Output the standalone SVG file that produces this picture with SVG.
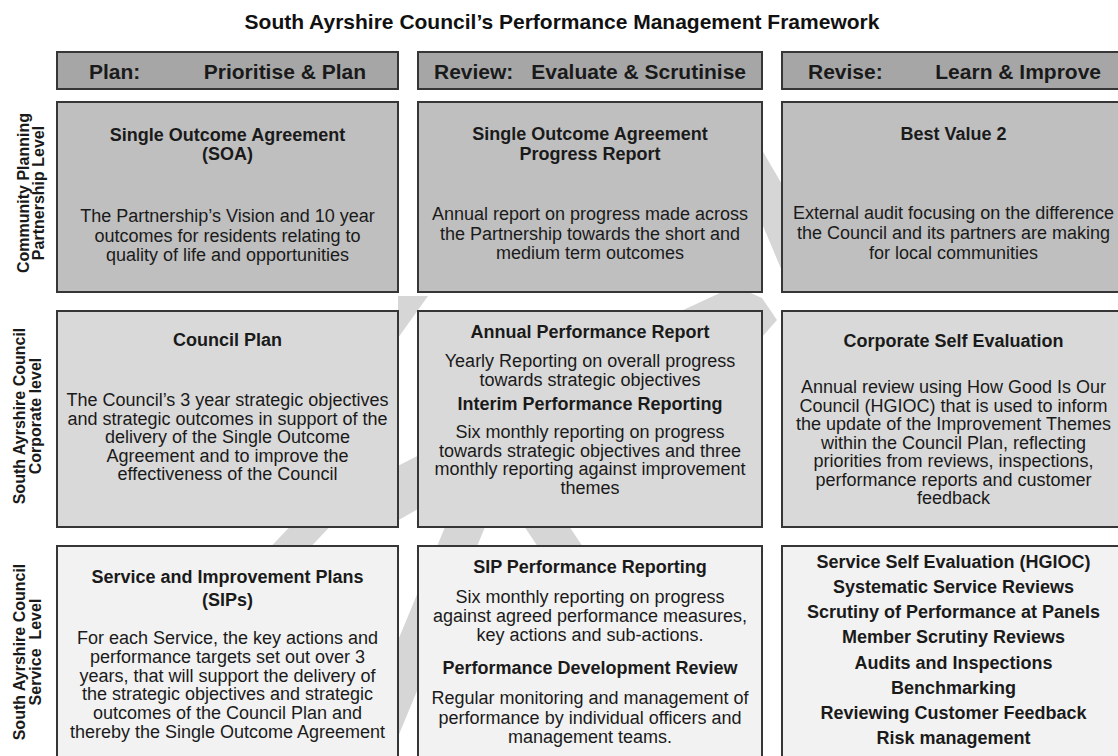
<svg xmlns="http://www.w3.org/2000/svg" width="1118" height="756" viewBox="0 0 1118 756">
  <style>
    .title { font-family: "Liberation Sans", Arial, sans-serif; font-weight: bold; font-size: 21px; fill: #111; }
    .hdr { font-family: "Liberation Sans", Arial, sans-serif; font-weight: bold; font-size: 21px; fill: #1a1a1a; }
    .lbl { font-family: "Liberation Sans", Arial, sans-serif; font-weight: bold; font-size: 16px; fill: #1a1a1a; text-anchor: middle; }
    .t { font-family: "Liberation Sans", Arial, sans-serif; font-weight: bold; font-size: 18px; fill: #1a1a1a; text-anchor: middle; }
    .b { font-family: "Liberation Sans", Arial, sans-serif; font-size: 18px; fill: #1a1a1a; text-anchor: middle; }
    .box { stroke: #363636; stroke-width: 2; }
    .h { fill: #a6a6a6; }
    .r1 { fill: #bfbfbf; }
    .r2 { fill: #d9d9d9; }
    .r3 { fill: #f2f2f2; }
    .wm { fill: #d6d6d6; }
  </style>

  <rect x="0" y="0" width="1118" height="756" fill="#ffffff"/>

  <!-- faint watermark strokes behind the grid -->
  <g id="watermark">
    <polygon class="wm" points="755,138 790,198 790,290 755,207"/>
    <polygon class="wm" points="640,330 735,286 762,298 777,320 762,337 700,340"/>
    <polygon class="wm" points="262,556 300,516 340,516 302,556"/>
    <polygon class="wm" points="390,470 425,452 425,505 390,525"/>
    <polygon class="wm" points="398,296 428,296 398,338"/>
    <polygon class="wm" points="450,515 490,515 390,756 350,756"/>
    <polygon class="wm" points="520,520 565,520 585,550 540,550"/>
  </g>

  <text class="title" x="562" y="29" text-anchor="middle">South Ayrshire Council’s Performance Management Framework</text>

  <!-- column headers -->
  <g id="hdr-plan">
    <rect class="box h" x="57" y="52" width="341" height="37"/>
    <text class="hdr" x="89" y="79">Plan:</text>
    <text class="hdr" x="366" y="79" text-anchor="end">Prioritise &amp; Plan</text>
  </g>
  <g id="hdr-review">
    <rect class="box h" x="418" y="52" width="344" height="37"/>
    <text class="hdr" x="434" y="79">Review:</text>
    <text class="hdr" x="746" y="79" text-anchor="end">Evaluate &amp; Scrutinise</text>
  </g>
  <g id="hdr-revise">
    <rect class="box h" x="782" y="52" width="343" height="37"/>
    <text class="hdr" x="808" y="79">Revise:</text>
    <text class="hdr" x="1101" y="79" text-anchor="end">Learn &amp; Improve</text>
  </g>

  <!-- row labels -->
  <g id="lbl-partnership">
    <text class="lbl" transform="translate(29,193) rotate(-90)">Community Planning</text>
    <text class="lbl" transform="translate(44,193) rotate(-90)">Partnership Level</text>
  </g>
  <g id="lbl-corporate">
    <text class="lbl" transform="translate(25,416) rotate(-90)">South Ayrshire Council</text>
    <text class="lbl" transform="translate(40.5,416) rotate(-90)">Corporate level</text>
  </g>
  <g id="lbl-service">
    <text class="lbl" transform="translate(25,652) rotate(-90)">South Ayrshire Council</text>
    <text class="lbl" transform="translate(40.5,652) rotate(-90)" xml:space="preserve">Service  Level</text>
  </g>

  <!-- row 1: community planning partnership level -->
  <g id="soa">
    <rect class="box r1" x="57" y="102" width="341" height="190"/>
    <text class="t" x="227.5" y="141">Single Outcome Agreement</text>
    <text class="t" x="227.5" y="160">(SOA)</text>
    <text class="b" x="227.5" y="222">The Partnership’s Vision and 10 year</text>
    <text class="b" x="227.5" y="242">outcomes for residents relating to</text>
    <text class="b" x="227.5" y="261">quality of life and opportunities</text>
  </g>
  <g id="soa-progress">
    <rect class="box r1" x="418" y="102" width="344" height="190"/>
    <text class="t" x="590" y="140">Single Outcome Agreement</text>
    <text class="t" x="590" y="160">Progress Report</text>
    <text class="b" x="590" y="220">Annual report on progress made across</text>
    <text class="b" x="590" y="240">the Partnership towards the short and</text>
    <text class="b" x="590" y="259">medium term outcomes</text>
  </g>
  <g id="best-value">
    <rect class="box r1" x="782" y="102" width="343" height="190"/>
    <text class="t" x="953.5" y="140">Best Value 2</text>
    <text class="b" x="953.5" y="219">External audit focusing on the difference</text>
    <text class="b" x="953.5" y="239">the Council and its partners are making</text>
    <text class="b" x="953.5" y="259">for local communities</text>
  </g>

  <!-- row 2: corporate level -->
  <g id="council-plan">
    <rect class="box r2" x="57" y="311" width="341" height="216"/>
    <text class="t" x="227.5" y="346">Council Plan</text>
    <text class="b" x="227.5" y="406">The Council’s 3 year strategic objectives</text>
    <text class="b" x="227.5" y="424.5">and strategic outcomes in support of the</text>
    <text class="b" x="227.5" y="443">delivery of the Single Outcome</text>
    <text class="b" x="227.5" y="461.5">Agreement and to improve the</text>
    <text class="b" x="227.5" y="480">effectiveness of the Council</text>
  </g>
  <g id="annual-report">
    <rect class="box r2" x="418" y="311" width="344" height="216"/>
    <text class="t" x="590" y="338">Annual Performance Report</text>
    <text class="b" x="590" y="367">Yearly Reporting on overall progress</text>
    <text class="b" x="590" y="386">towards strategic objectives</text>
    <text class="t" x="590" y="410">Interim Performance Reporting</text>
    <text class="b" x="590" y="438">Six monthly reporting on progress</text>
    <text class="b" x="590" y="456.5">towards strategic objectives and three</text>
    <text class="b" x="590" y="475">monthly reporting against improvement</text>
    <text class="b" x="590" y="493.5">themes</text>
  </g>
  <g id="corporate-self-eval">
    <rect class="box r2" x="782" y="311" width="343" height="216"/>
    <text class="t" x="953.5" y="347">Corporate Self Evaluation</text>
    <text class="b" x="953.5" y="393">Annual review using How Good Is Our</text>
    <text class="b" x="953.5" y="411.5">Council (HGIOC) that is used to inform</text>
    <text class="b" x="953.5" y="430">the update of the Improvement Themes</text>
    <text class="b" x="953.5" y="448.5">within the Council Plan, reflecting</text>
    <text class="b" x="953.5" y="467">priorities from reviews, inspections,</text>
    <text class="b" x="953.5" y="485.5">performance reports and customer</text>
    <text class="b" x="953.5" y="504">feedback</text>
  </g>

  <!-- row 3: service level -->
  <g id="sips">
    <rect class="box r3" x="57" y="546" width="341" height="220"/>
    <text class="t" x="227.5" y="583">Service and Improvement Plans</text>
    <text class="t" x="227.5" y="606">(SIPs)</text>
    <text class="b" x="227.5" y="644">For each Service, the key actions and</text>
    <text class="b" x="227.5" y="662.8">performance targets set out over 3</text>
    <text class="b" x="227.5" y="681.6">years, that will support the delivery of</text>
    <text class="b" x="227.5" y="700.4">the strategic objectives and strategic</text>
    <text class="b" x="227.5" y="719.2">outcomes of the Council Plan and</text>
    <text class="b" x="227.5" y="738">thereby the Single Outcome Agreement</text>
  </g>
  <g id="sip-reporting">
    <rect class="box r3" x="418" y="546" width="344" height="220"/>
    <text class="t" x="590" y="573">SIP Performance Reporting</text>
    <text class="b" x="590" y="603">Six monthly reporting on progress</text>
    <text class="b" x="590" y="622">against agreed performance measures,</text>
    <text class="b" x="590" y="641">key actions and sub-actions.</text>
    <text class="t" x="590" y="674">Performance Development Review</text>
    <text class="b" x="590" y="704">Regular monitoring and management of</text>
    <text class="b" x="590" y="723.5">performance by individual officers and</text>
    <text class="b" x="590" y="743">management teams.</text>
  </g>
  <g id="service-review">
    <rect class="box r3" x="782" y="546" width="343" height="220"/>
    <text class="t" x="953.5" y="568">Service Self Evaluation (HGIOC)</text>
    <text class="t" x="953.5" y="593">Systematic Service Reviews</text>
    <text class="t" x="953.5" y="618">Scrutiny of Performance at Panels</text>
    <text class="t" x="953.5" y="643">Member Scrutiny Reviews</text>
    <text class="t" x="953.5" y="669">Audits and Inspections</text>
    <text class="t" x="953.5" y="694">Benchmarking</text>
    <text class="t" x="953.5" y="719">Reviewing Customer Feedback</text>
    <text class="t" x="953.5" y="744">Risk management</text>
  </g>
</svg>
